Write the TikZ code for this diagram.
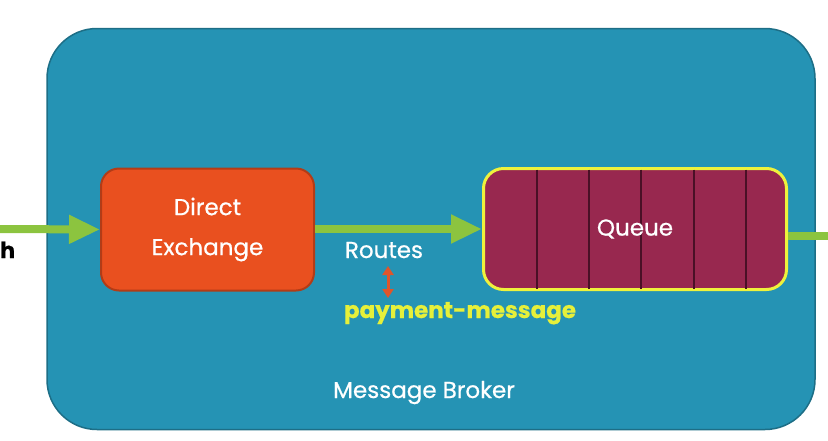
\documentclass[tikz,border=0pt]{standalone}
\usepackage{fontspec}
\setmainfont{Poppins}[FakeBold=0.6]
\usetikzlibrary{arrows.meta,positioning}

\definecolor{brokerblue}{HTML}{2593B4}
\definecolor{brokeredge}{HTML}{1D6E86}
\definecolor{exchred}{HTML}{E9501F}
\definecolor{exchedge}{HTML}{B23C17}
\definecolor{queuered}{HTML}{98284F}
\definecolor{queueedge}{HTML}{EEF23C}
\definecolor{slotline}{HTML}{4A1026}
\definecolor{flowgreen}{HTML}{8CC43F}
\definecolor{keyyellow}{HTML}{E6F03A}
\definecolor{keyarrow}{HTML}{E0552A}

\begin{document}
\begin{tikzpicture}
      [
        x = 1pt, y = -1pt,
        every node/.style = {font=\fontsize{23}{27}\selectfont, text=white, inner sep=0pt},
        broker/.style = {draw=brokeredge, line width=1.5pt, fill=brokerblue, rounded corners=50pt,
                         minimum width=768pt, minimum height=401pt},
        exchbox/.style = {draw=exchedge, line width=2pt, fill=exchred, rounded corners=18pt,
                          minimum width=213pt, minimum height=122pt, align=center},
        queuebox/.style = {draw=queueedge, line width=3pt, fill=queuered, rounded corners=20pt,
                           minimum width=303pt, minimum height=121pt},
        flow/.style = {draw=flowgreen, line width=8pt, -{Triangle[length=31pt,width=27pt]}},
      ]

      \useasboundingbox (0,0) rectangle (828,440);

      \node[broker] (broker) at (431,229) {};
      \node[anchor=base] (brokerlabel) at (424,398) {Message Broker};

      \node[exchbox] (exch) at (207.5,229.5) {Direct\\[13pt]Exchange};
      \node[queuebox] (queue) at (635,229) {};
      \foreach \x in {537,589,641,694,746}
        \draw[slotline, line width=1.5pt] (\x,169.5) -- (\x,288.5);
      \node (queuelabel) at (queue.center) {Queue};

      \coordinate (publisher) at (0,229);
      \coordinate (consumer) at (828,236);
      \node[anchor=base west, text=black, font=\fontsize{22}{26}\bfseries] (pub) at (0,258) {h};

      \draw[flow] (publisher) -- (exch.west);
      \draw[flow] (exch.east |- 0,229) -- (queue.west);
      \draw[draw=flowgreen, line width=8pt] (queue.east |- consumer) -- (consumer);

      \node[anchor=base] (routes) at (384,258) {Routes};
      \node[anchor=base, text=keyyellow, font=\fontsize{23}{27}\bfseries] (routekey) at (460,318) {payment-message};
      \draw[keyarrow, line width=3pt, {Triangle[length=9pt,width=11pt]}-{Triangle[length=9pt,width=11pt]}]
        (388,266) coordinate (keytop) (keytop) -- (388,298);
    \end{tikzpicture}
\end{document}
